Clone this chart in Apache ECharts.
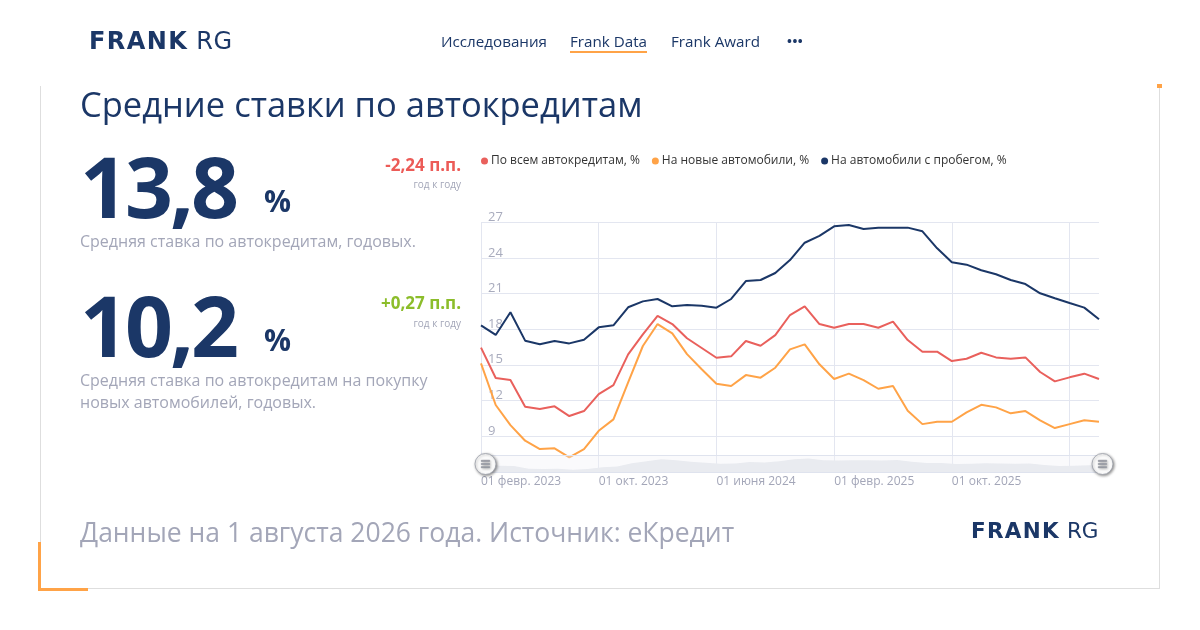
<!DOCTYPE html>
<html>
<head>
<meta charset="utf-8">
<script src="https://cdn.jsdelivr.net/npm/echarts@6/dist/echarts.min.js"></script>
<style>
  html,body{margin:0;padding:0;background:#fff;}
  body{width:1200px;height:630px;position:relative;overflow:hidden;font-family:"Open Sans",sans-serif;}
  .abs{position:absolute;white-space:nowrap;}
  #chart{position:absolute;left:0;top:0;width:1200px;height:630px;}
  .navy{color:#1b3767;}
  .gray{color:#a3a6b8;}
</style>
</head>
<body>
<script>
// ---- data (monthly, 01.02.2023 – 01.08.2026) ----
const categories = [
  "01 февр. 2023","01 марта 2023","01 апр. 2023","01 мая 2023","01 июня 2023","01 июля 2023","01 авг. 2023","01 сент. 2023",
  "01 окт. 2023","01 нояб. 2023","01 дек. 2023","01 янв. 2024","01 февр. 2024","01 марта 2024","01 апр. 2024","01 мая 2024",
  "01 июня 2024","01 июля 2024","01 авг. 2024","01 сент. 2024","01 окт. 2024","01 нояб. 2024","01 дек. 2024","01 янв. 2025",
  "01 февр. 2025","01 марта 2025","01 апр. 2025","01 мая 2025","01 июня 2025","01 июля 2025","01 авг. 2025","01 сент. 2025",
  "01 окт. 2025","01 нояб. 2025","01 дек. 2025","01 янв. 2026","01 февр. 2026","01 марта 2026","01 апр. 2026","01 мая 2026",
  "01 июня 2026","01 июля 2026","01 авг. 2026"
];
const allLoans = [
  16.44,13.88,13.71,11.47,11.27,11.5,10.68,11.1,12.53,13.29,15.88,17.56,19.11,18.43,17.23,16.41,
  15.59,15.71,17.0,16.6,17.5,19.19,19.92,18.43,18.12,18.43,18.43,18.12,18.63,17.08,16.1,16.1,
  15.31,15.51,16.01,15.62,15.51,15.62,14.39,13.6,13.94,14.25,13.8
];
const newCars = [
  15.12,11.61,9.92,8.6,7.9,7.96,7.2,7.9,9.44,10.4,13.52,16.58,18.43,17.65,15.9,14.62,
  13.4,13.21,14.13,13.91,14.75,16.3,16.72,15.04,13.8,14.25,13.71,12.98,13.21,11.13,10.0,10.2,
  10.2,10.99,11.63,11.41,10.91,11.1,10.32,9.67,10.0,10.32,10.2
];
const usedCars = [
  18.32,17.51,19.42,17.03,16.72,17.0,16.8,17.11,18.15,18.32,19.84,20.34,20.54,19.92,20.03,19.97,
  19.81,20.54,22.05,22.14,22.73,23.82,25.28,25.85,26.66,26.77,26.44,26.55,26.55,26.55,26.24,24.81,
  23.63,23.43,22.96,22.62,22.14,21.8,21.02,20.6,20.2,19.81,18.83
];
const seriesNames = ["По всем автокредитам, %","На новые автомобили, %","На автомобили с пробегом, %"];
const yTicks = { min: 6, max: 27, step: 3 };
</script>

<div id="chart"></div>

<!-- header -->
<div class="abs navy" style="left:89px;top:26px;font-family:'DejaVu Sans';font-size:24px;line-height:30px;">
  <span style="font-weight:bold;letter-spacing:1.4px;">FRANK</span><span style="letter-spacing:0.5px;"> RG</span>
</div>
<div class="abs navy" style="left:441px;top:31px;font-size:15.2px;line-height:20px;">Исследования</div>
<div class="abs navy" style="left:570px;top:31px;font-size:15.2px;line-height:20px;">Frank Data</div>
<div class="abs" style="left:570px;top:51px;width:77px;height:2px;background:#ffa347;"></div>
<div class="abs navy" style="left:671px;top:31px;font-size:15.2px;line-height:20px;">Frank Award</div>
<div class="abs navy" style="left:787px;top:32px;font-size:13px;line-height:18px;font-weight:bold;letter-spacing:0.5px;">•••</div>

<!-- card -->
<div class="abs" style="left:40px;top:86px;width:1118px;height:502px;border:1px solid #dedede;border-top:none;"></div>
<div class="abs" style="left:1157px;top:84px;width:5px;height:4px;background:#ffa347;"></div>
<div class="abs" style="left:38px;top:542px;width:3px;height:49px;background:#ffa347;"></div>
<div class="abs" style="left:38px;top:588px;width:50px;height:3px;background:#ffa347;"></div>

<div class="abs navy" style="left:80px;top:82px;font-size:34.5px;line-height:44px;">Средние ставки по автокредитам</div>

<div class="abs navy" style="left:80px;top:136px;font-size:84px;line-height:100px;font-weight:bold;letter-spacing:-3px;">13,8</div>
<div class="abs navy" style="left:264px;top:183px;font-size:30px;line-height:36px;font-weight:bold;">%</div>
<div class="abs" style="right:739px;top:153px;font-size:17px;line-height:24px;font-weight:bold;color:#ec5b57;">-2,24 п.п.</div>
<div class="abs gray" style="right:739px;top:177px;font-size:10px;line-height:14px;">год к году</div>
<div class="abs gray" style="left:80px;top:230px;font-size:16px;line-height:22px;">Средняя ставка по автокредитам, годовых.</div>

<div class="abs navy" style="left:80px;top:275px;font-size:84px;line-height:100px;font-weight:bold;letter-spacing:-3px;">10,2</div>
<div class="abs navy" style="left:264px;top:322px;font-size:30px;line-height:36px;font-weight:bold;">%</div>
<div class="abs" style="right:739px;top:291px;font-size:17px;line-height:24px;font-weight:bold;color:#8cbd2b;">+0,27 п.п.</div>
<div class="abs gray" style="right:739px;top:316px;font-size:10px;line-height:14px;">год к году</div>
<div class="abs gray" style="left:80px;top:369px;font-size:16px;line-height:22px;">Средняя ставка по автокредитам на покупку<br>новых автомобилей, годовых.</div>

<div class="abs gray" style="left:80px;top:513px;font-size:26.5px;line-height:38px;">Данные на 1 августа 2026 года. Источник: еКредит</div>
<div class="abs navy" style="left:971px;top:518px;font-family:'DejaVu Sans';font-size:21.5px;line-height:26px;">
  <span style="font-weight:bold;letter-spacing:1.3px;">FRANK</span><span> RG</span>
</div>

<script>
const chart = echarts.init(document.getElementById('chart'), null, {renderer:'canvas'});
const colors = ['#e9605c','#ffa347','#1b3767'];
const handlePath = 'path://M0,-10A10,10,0,1,1,0,10A10,10,0,1,1,0,-10Z' +
  'M-4,-3.5L-4,-2.5L4,-2.5L4,-3.5Z' +
  'M-4,-0.5L-4,0.5L4,0.5L4,-0.5Z' +
  'M-4,2.5L-4,3.5L4,3.5L4,2.5Z';
const option = {
  animation:false,
  color: colors,
  textStyle:{fontFamily:'Open Sans'},
  legend:{
    left:476, top:150, icon:'circle', itemWidth:7, itemHeight:7, itemGap:12,
    textStyle:{fontSize:12, color:'#333', fontFamily:'Open Sans', padding:[0,0,0,-2]},
    data: seriesNames
  },
  grid:{left:481, right:101, top:222.3, bottom:158.4, containLabel:false},
  xAxis:{
    type:'category', data:categories, boundaryGap:false,
    axisLine:{show:true, lineStyle:{color:'#dfe3ee'}},
    axisTick:{show:false},
    axisLabel:{
      interval:function(i){return i%8===0 && i<40;},
      align:'left', margin:4, color:'#a3a6b8', fontSize:12, fontFamily:'Open Sans'
    },
    splitLine:{show:true, interval:function(i){return i%8===0;}, lineStyle:{color:'#e3e6f0', width:1}}
  },
  yAxis:{
    type:'value', min:yTicks.min, max:yTicks.max, interval:yTicks.step,
    axisLine:{show:false}, axisTick:{show:false},
    axisLabel:{inside:true, margin:7, verticalAlign:'bottom', lineHeight:10, color:'#a8abbd', fontSize:13, showMinLabel:false, fontFamily:'Open Sans'},
    splitLine:{lineStyle:{color:'#e3e6f0', width:1}}
  },
  dataZoom:[{
    type:'slider', xAxisIndex:0, start:0, end:100,
    left:482, right:99, top:455, height:18,
    showDetail:false, brushSelect:false,
    backgroundColor:'rgba(240,242,247,0.35)',
    borderColor:'#dfe3ee',
    fillerColor:'rgba(0,0,0,0)',
    handleIcon:handlePath, handleSize:21,
    handleStyle:{color:'#ffffff', borderColor:'#9a9ea8', borderWidth:0.8, shadowBlur:3, shadowColor:'rgba(0,0,0,0.45)', shadowOffsetX:1, shadowOffsetY:1},
    moveHandleSize:0, moveHandleStyle:{opacity:0},
    dataBackground:{lineStyle:{opacity:0}, areaStyle:{color:'#e9ebf0', opacity:1}},
    selectedDataBackground:{lineStyle:{opacity:0}, areaStyle:{color:'#e9ebf0', opacity:1}},
    emphasis:{handleStyle:{borderColor:'#9a9ea8'}}
  }],
  series:[
    {name:seriesNames[0], type:'line', data:allLoans, showSymbol:false, symbol:'none', lineStyle:{width:2}, z:3},
    {name:seriesNames[1], type:'line', data:newCars, showSymbol:false, symbol:'none', lineStyle:{width:2}, z:3},
    {name:seriesNames[2], type:'line', data:usedCars, showSymbol:false, symbol:'none', lineStyle:{width:2}, z:3}
  ]
};
chart.setOption(option);
</script>
</body>
</html>
